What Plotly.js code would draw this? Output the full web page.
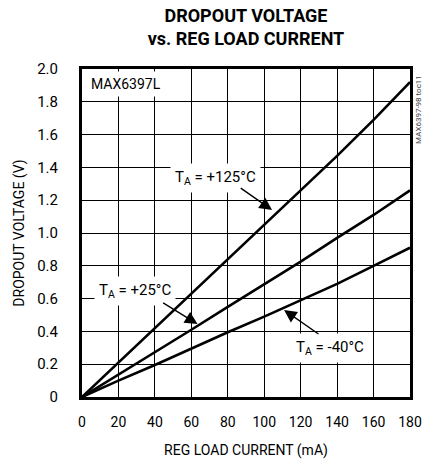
<!DOCTYPE html>
<html>
<head>
<meta charset="utf-8">
<script src="https://cdn.plot.ly/plotly-3.0.1.min.js"></script>
<style>
html,body{margin:0;padding:0;background:#fff;}
#chart{width:422px;height:459px;}
</style>
</head>
<body>
<div id="chart"></div>
<script>
// Data
var loadCurrent = [0, 20, 40, 60, 80, 100, 120, 140, 160, 180];            // mA
var vdrop125 = [0, 0.21, 0.42, 0.63, 0.84, 1.05, 1.26, 1.47, 1.69, 1.92];    // V, TA = +125°C
var vdrop25  = [0, 0.135, 0.27, 0.41, 0.55, 0.685, 0.825, 0.97, 1.11, 1.26]; // V, TA = +25°C
var vdropM40 = [0, 0.10, 0.195, 0.295, 0.395, 0.49, 0.59, 0.69, 0.80, 0.91]; // V, TA = -40°C

var xTickVals = [0, 20, 40, 60, 80, 100, 120, 140, 160, 180];
var xTickText = ['0', '20', '40', '60', '80', '100', '120', '140', '160', '180'];
var yTickVals = [0, 0.2, 0.4, 0.6, 0.8, 1.0, 1.2, 1.4, 1.6, 1.8, 2.0];
var yTickText = ['0', '0.2', '0.4', '0.6', '0.8', '1.0', '1.2', '1.4', '1.6', '1.8', '2.0'];

var FONT = 'Roboto, Liberation Sans, sans-serif';

function curve(y) {
  return {x: loadCurrent, y: y, type: 'scatter', mode: 'lines',
          line: {color: '#000', width: 2.6}, hoverinfo: 'skip', showlegend: false};
}

var data = [curve(vdrop125), curve(vdrop25), curve(vdropM40)];

function label(text, x, y) {
  return {text: text, x: x, y: y, xref: 'x', yref: 'y', showarrow: false,
          font: {family: FONT, size: 15, color: '#000'},
          bgcolor: '#fff', borderpad: 4, xanchor: 'center', yanchor: 'middle'};
}
function arrow(tailX, tailY, tipX, tipY) {
  return {text: '', x: tipX, y: tipY, ax: tailX, ay: tailY, xref: 'x', yref: 'y',
          axref: 'x', ayref: 'y', showarrow: true, arrowhead: 2, arrowsize: 1.8,
          arrowwidth: 1.4, arrowcolor: '#000', standoff: 0};
}

var layout = {
  width: 422, height: 459,
  margin: {l: 82, r: 12, t: 69, b: 62},
  paper_bgcolor: '#fff', plot_bgcolor: '#fff',
  font: {family: FONT, color: '#000'},
  title: {
    text: '<b>DROPOUT VOLTAGE<br>vs. REG LOAD CURRENT</b>',
    font: {family: FONT, size: 18, color: '#000', weight: 900},
    x: 0.5, xanchor: 'center', xref: 'paper',
    y: 1, yanchor: 'bottom', yref: 'paper',
    pad: {b: 47}
  },
  xaxis: {
    range: [0, 180], tickvals: xTickVals, ticktext: xTickText,
    showgrid: true, gridcolor: '#000', gridwidth: 1, zeroline: false,
    showline: true, linecolor: '#000', linewidth: 3, mirror: true,
    ticks: '', ticklabelstandoff: 10, ticklabeloverflow: 'allow',
    tickfont: {family: FONT, size: 14, color: '#000'},
    title: {text: 'REG LOAD CURRENT (mA)', font: {family: FONT, size: 14, color: '#000'}, standoff: 17},
    fixedrange: true
  },
  yaxis: {
    range: [0, 2.0], tickvals: yTickVals, ticktext: yTickText,
    showgrid: true, gridcolor: '#000', gridwidth: 1, zeroline: false,
    showline: true, linecolor: '#000', linewidth: 3, mirror: true,
    ticks: '', ticklabelstandoff: 18,
    tickfont: {family: FONT, size: 15, color: '#000'},
    title: {text: 'DROPOUT VOLTAGE (V)', font: {family: FONT, size: 14, color: '#000'}, standoff: 10},
    fixedrange: true
  },
  annotations: [
    label('T<sub>A</sub> = +125°C', 73.3, 1.335),
    arrow(86.3, 1.28, 104.3, 1.14),
    label('T<sub>A</sub> = +25°C', 29, 0.646),
    arrow(43.7, 0.58, 63.4, 0.445),
    label('T<sub>A</sub> = -40°C', 136.2, 0.30),
    arrow(130.6, 0.378, 110.9, 0.53),
    {text: 'MAX6397L', xref: 'paper', yref: 'paper', x: 0.012, y: 0.994,
     xanchor: 'left', yanchor: 'top', showarrow: false, bgcolor: '#fff', borderpad: 4,
     font: {family: FONT, size: 14, color: '#000'}},
    {text: 'MAX6397-98 toc11', xref: 'paper', yref: 'paper', x: 1.024, y: 0.878,
     xanchor: 'center', yanchor: 'middle', textangle: -90, showarrow: false,
     font: {family: FONT, size: 8, color: '#444'}}
  ]
};

Plotly.newPlot('chart', data, layout, {displayModeBar: false, staticPlot: true});
</script>
</body>
</html>
